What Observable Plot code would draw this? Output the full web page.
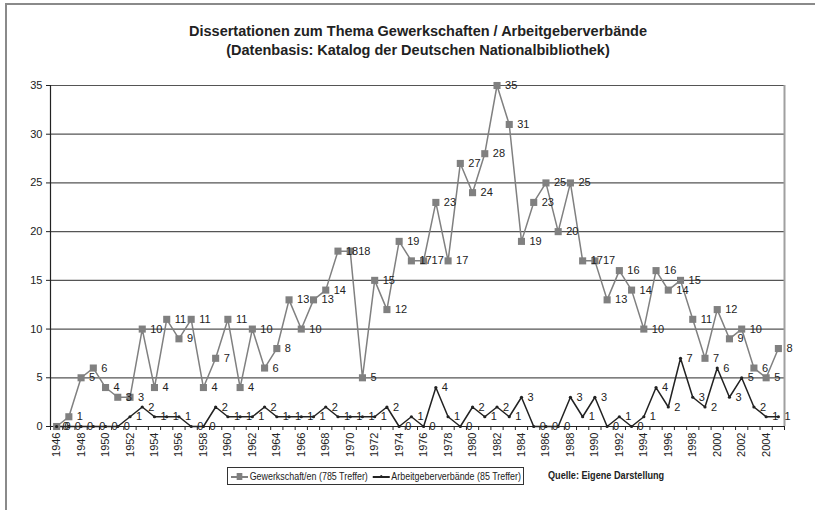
<!DOCTYPE html>
<html>
<head>
<meta charset="utf-8">
<script src="https://cdn.jsdelivr.net/npm/d3@7"></script>
<script src="https://cdn.jsdelivr.net/npm/@observablehq/plot@0.6"></script>
<style>
  html, body { margin: 0; padding: 0; background: #fff; }
  body { font-family: "Liberation Sans", Arial, sans-serif; color: #222; }
  #wrap { position: relative; width: 815px; height: 510px; overflow: hidden; }
  #frame { position: absolute; left: 5px; top: 3px; width: 900px; height: 600px;
           border-left: 2px solid #8a8a8a; border-top: 2px solid #8a8a8a; }
  #title { position: absolute; left: 0; top: 22px; width: 836px; text-align: center;
           font-weight: bold; font-size: 14.5px; line-height: 19px; color: #222; }
  #chart { position: absolute; left: 0; top: 70px; }
  #legend { position: absolute; left: 227px; top: 467px; width: 295px; height: 16px;
            border: 1px solid #333; overflow: hidden; }
  #legend .inner { position: absolute; left: 3px; top: 0; height: 16px; font-size: 11px; line-height: 16px;
            color: #222; white-space: nowrap; transform: scaleX(0.81); transform-origin: 0 0; }
  .ln { display: inline-block; position: relative; width: 21px; height: 1.5px; vertical-align: middle; margin-right: 2px; }
  .ln.g { background: #808080; }
  .ln.k { background: #222; margin-left: 6px; }
  .ln .sq { position: absolute; left: 7px; top: -3px; width: 7px; height: 7px; background: #808080; }
  .ln .dt { position: absolute; left: 9px; top: -1px; width: 3px; height: 3px; border-radius: 2px; background: #222; }
  #source { position: absolute; left: 548px; top: 469px; font-size: 11px; font-weight: bold; color: #222;
            white-space: nowrap; transform: scaleX(0.83); transform-origin: 0 0; }
</style>
</head>
<body>
<div id="wrap">
  <div id="frame"></div>
  <div id="title">Dissertationen zum Thema Gewerkschaften / Arbeitgeberverbände<br>(Datenbasis: Katalog der Deutschen Nationalbibliothek)</div>
  <div id="chart"></div>
  <div id="legend"><div class="inner"><span class="ln g"><span class="sq"></span></span>Gewerkschaft/en (785 Treffer)<span class="ln k"><span class="dt"></span></span>Arbeitgeberverbände (85 Treffer)</div></div>
  <div id="source">Quelle: Eigene Darstellung</div>
</div>
<script>
const years = d3.range(1946, 2006);
const gewerkschaften = [0,1,5,6,4,3,3,10,4,11,9,11,4,7,11,4,10,6,8,13,10,13,14,18,18,5,15,12,19,17,17,23,17,27,24,28,35,31,19,23,25,20,25,17,17,13,16,14,10,16,14,15,11,7,12,9,10,6,5,8];
const arbeitgeber = [0,0,0,0,0,0,1,2,1,1,1,0,0,2,1,1,1,2,1,1,1,1,2,1,1,1,1,2,0,1,0,4,1,0,2,1,2,1,3,0,0,0,3,1,3,0,1,0,1,4,2,7,3,2,6,3,5,2,1,1];
const yTicks = [0,5,10,15,20,25,30,35];
const xLabelYears = years.filter(y => y % 2 === 0);

const gData = years.map((y, i) => ({year: y, value: gewerkschaften[i]}));
const aData = years.map((y, i) => ({year: y, value: arbeitgeber[i]}));
const boundaries = d3.range(1945.5, 2006, 1);

const chart = Plot.plot({
  width: 815,
  height: 400,
  marginLeft: 50,
  marginRight: 31,
  marginTop: 15,
  marginBottom: 44,
  style: {fontFamily: "'Liberation Sans', Arial, sans-serif", fontSize: "11px", color: "#222", background: "transparent"},
  x: {domain: [1945.5, 2005.5], axis: null, label: null},
  y: {domain: [0, 35], axis: null, label: null},
  marks: [
    Plot.ruleY(yTicks.filter(d => d > 0), {stroke: "#555", strokeWidth: 1.2}),
    Plot.ruleX([2005.5], {y1: 0, y2: 35, stroke: "#a0a0a0", strokeWidth: 2}),
    Plot.axisY({ticks: yTicks, tickSize: 4, tickPadding: 4, fontSize: 11, stroke: "#222", label: null}),
    Plot.ruleX([1945.5], {y1: 0, y2: 35, stroke: "#222", strokeWidth: 1.2}),
    Plot.axisX({ticks: boundaries, tickSize: 4, tickFormat: () => "", stroke: "#222", label: null}),
    Plot.axisX({ticks: xLabelYears, tickSize: 0, tickPadding: 6, tickRotate: -90, tickFormat: d => String(d), fontSize: 11, label: null}),
    Plot.ruleY([0], {stroke: "#222", strokeWidth: 1.2}),
    Plot.line(gData, {x: "year", y: "value", stroke: "#808080", strokeWidth: 1.5}),
    Plot.line(aData, {x: "year", y: "value", stroke: "#222", strokeWidth: 1.5}),
    Plot.dot(gData, {x: "year", y: "value", symbol: "square", r: 4, fill: "#808080", stroke: null}),
    Plot.dot(aData, {x: "year", y: "value", r: 1.6, fill: "#222", stroke: null}),
    Plot.text(gData, {x: "year", y: "value", text: d => String(d.value), dx: 8, textAnchor: "start", fontSize: 11, fill: "#222"}),
    Plot.text(aData, {x: "year", y: "value", text: d => String(d.value), dx: 6, textAnchor: "start", fontSize: 11, fill: "#222"})
  ]
});
document.getElementById("chart").appendChild(chart);
</script>
</body>
</html>
